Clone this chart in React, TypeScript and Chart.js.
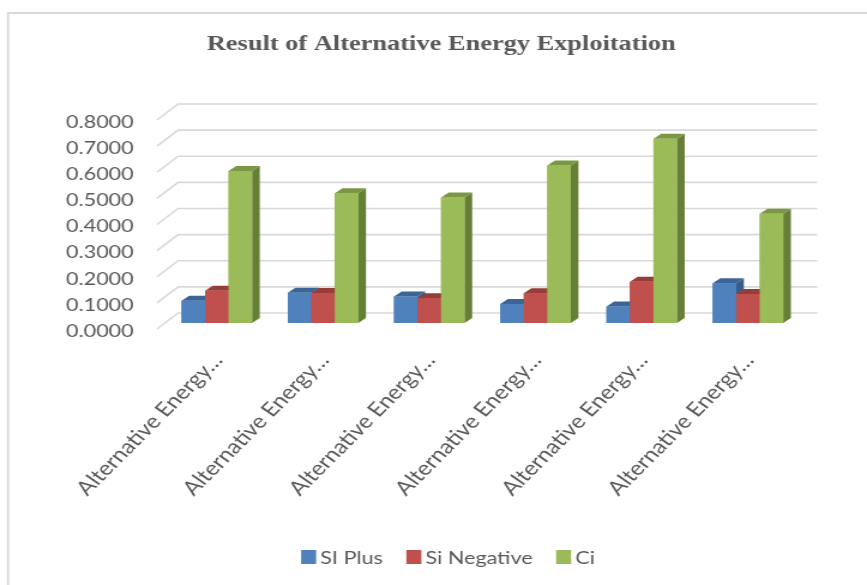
import React, { useEffect, useRef } from "react";
import { Chart, registerables } from "chart.js";

Chart.register(...registerables);

// Categories and series values
const categories = [
  "Alternative Energy…",
  "Alternative Energy…",
  "Alternative Energy…",
  "Alternative Energy…",
  "Alternative Energy…",
  "Alternative Energy…",
];
const siPlus = [0.085, 0.116, 0.101, 0.073, 0.063, 0.152];
const siNegative = [0.123, 0.115, 0.095, 0.114, 0.158, 0.111];
const ci = [0.582, 0.497, 0.48, 0.603, 0.705, 0.418];
const seriesNames = ["SI Plus", "Si Negative", "Ci"];
const yTickValues = [0, 0.1, 0.2, 0.3, 0.4, 0.5, 0.6, 0.7, 0.8];
const chartTitle = "Result of Alternative Energy Exploitation";

// Face colours for the 3-D columns: front, top, right side
const frontColors = ["#4F81BD", "#C0504D", "#9BBB59"];
const topColors = ["#3B6596", "#963D3A", "#7A9844"];
const sideColors = ["#375C88", "#873634", "#667F37"];

// Canvas is drawn narrow and widened by CSS
const CANVAS_W = 723;
const CANVAS_H = 585;
const VIEW_W = 867;

// Column depth offsets
const BAR_DX = 6.4;
const BAR_DY = 5;
// Wall offsets relative to the column plane
const BACK_DX = 12;
const BACK_DY = 10;
const FRONT_DX = 5.6;
const FRONT_DY = 6;

const TEXT_COLOR = "#595959";
const GRID_COLOR = "#D9D9D9";
const LABEL_FONT = "Lato";
const LABEL_SIZE = 18;
const CATEGORY_SIZE = 20;

const framePlugin = {
  id: "frame",
  beforeDraw(chart: any) {
    const { ctx } = chart;
    ctx.save();
    ctx.fillStyle = "#ffffff";
    ctx.fillRect(0, 0, chart.width, chart.height);
    ctx.strokeStyle = GRID_COLOR;
    ctx.lineWidth = 1.8;
    ctx.beginPath();
    ctx.moveTo(6.7, chart.height);
    ctx.lineTo(6.7, 13);
    ctx.lineTo(chart.width, 13);
    ctx.stroke();
    ctx.restore();
  },
};

const wallPlugin = {
  id: "walls",
  beforeDatasetsDraw(chart: any) {
    const { ctx, chartArea } = chart;
    const y = chart.scales.y;
    ctx.save();
    ctx.strokeStyle = GRID_COLOR;
    ctx.lineWidth = 1.6;
    for (const v of yTickValues) {
      const py = y.getPixelForValue(v);
      ctx.beginPath();
      ctx.moveTo(chartArea.left - FRONT_DX, py + FRONT_DY);
      ctx.lineTo(chartArea.left + BACK_DX, py - BACK_DY);
      ctx.lineTo(chartArea.right + BACK_DX + 1.5, py - BACK_DY);
      ctx.stroke();
    }
    ctx.restore();
  },
};

const columnPlugin = {
  id: "columns3d",
  afterDatasetsDraw(chart: any) {
    const { ctx } = chart;
    const metas = chart.data.datasets.map((_: any, i: number) => chart.getDatasetMeta(i));
    ctx.save();
    for (let j = 0; j < chart.data.labels.length; j++) {
      metas.forEach((meta: any, i: number) => {
        const el = meta.data[j];
        if (!el) return;
        const { x, y, base, width } = el.getProps(["x", "y", "base", "width"], true);
        const l = x - width / 2;
        const r = x + width / 2;
        // right side
        ctx.fillStyle = sideColors[i];
        ctx.beginPath();
        ctx.moveTo(r, y);
        ctx.lineTo(r + BAR_DX, y - BAR_DY);
        ctx.lineTo(r + BAR_DX, base - BAR_DY);
        ctx.lineTo(r, base);
        ctx.closePath();
        ctx.fill();
        // top
        ctx.fillStyle = topColors[i];
        ctx.beginPath();
        ctx.moveTo(l, y);
        ctx.lineTo(r, y);
        ctx.lineTo(r + BAR_DX, y - BAR_DY);
        ctx.lineTo(l + BAR_DX, y - BAR_DY);
        ctx.closePath();
        ctx.fill();
        // front
        ctx.fillStyle = frontColors[i];
        ctx.fillRect(l, y, r - l, base - y);
      });
    }
    ctx.restore();
  },
};

const titleLegendPlugin = {
  id: "titleLegend",
  afterDraw(chart: any) {
    const { ctx } = chart;
    ctx.save();
    ctx.fillStyle = TEXT_COLOR;
    ctx.font = 'bold 22px "Liberation Serif"';
    ctx.textAlign = "center";
    ctx.textBaseline = "alphabetic";
    ctx.fillText(chartTitle, 368, 49.5);

    // legend
    ctx.font = `${LABEL_SIZE}px ${LABEL_FONT}`;
    ctx.textAlign = "left";
    const box = 12.5;
    const gapBoxText = 3.5;
    const gapItems = 19.5;
    const widths = chart.data.datasets.map((d: any) => ctx.measureText(d.label).width);
    let total = 0;
    widths.forEach((w: number, i: number) => {
      total += box + gapBoxText + w + (i < widths.length - 1 ? gapItems : 0);
    });
    let x = 373.6 - total / 2;
    const baseline = 564;
    chart.data.datasets.forEach((d: any, i: number) => {
      ctx.fillStyle = frontColors[i];
      ctx.fillRect(x, 550, box, 14);
      ctx.fillStyle = TEXT_COLOR;
      ctx.fillText(d.label, x + box + gapBoxText, baseline);
      x += box + gapBoxText + widths[i] + gapItems;
    });
    ctx.restore();
  },
};

export default function App() {
  const canvasRef = useRef<HTMLCanvasElement | null>(null);

  useEffect(() => {
    const canvas = canvasRef.current;
    if (!canvas) return;
    const series = [siPlus, siNegative, ci];
    const chart = new Chart(canvas, {
      type: "bar",
      data: {
        labels: categories,
        datasets: series.map((values, i) => ({
          label: seriesNames[i],
          data: values,
          backgroundColor: frontColors[i],
          borderWidth: 0,
          categoryPercentage: 0.664,
          barPercentage: 1,
        })),
      },
      options: {
        responsive: false,
        animation: false,
        events: [],
        layout: { padding: { left: 0, right: 55, top: 114, bottom: 0 } },
        plugins: {
          legend: { display: false },
          title: { display: false },
          tooltip: { enabled: false },
        },
        scales: {
          x: {
            grid: { display: false, drawTicks: false },
            border: { display: false },
            ticks: {
              autoSkip: false,
              minRotation: 50,
              maxRotation: 50,
              padding: 26,
              labelOffset: 1,
              color: TEXT_COLOR,
              font: { family: LABEL_FONT, size: CATEGORY_SIZE },
            },
            afterFit(scale: any) {
              scale.height = CANVAS_H - 323;
            },
          },
          y: {
            min: 0,
            max: 0.8,
            grid: { display: false, drawTicks: false },
            border: { display: false },
            ticks: {
              stepSize: 0.1,
              padding: 25,
              labelOffset: 8,
              color: TEXT_COLOR,
              font: { family: LABEL_FONT, size: LABEL_SIZE },
              callback: (v: any) => Number(v).toFixed(4),
            },
            afterFit(scale: any) {
              scale.width = 136.5;
            },
          },
        },
      },
      plugins: [framePlugin, wallPlugin, columnPlugin, titleLegendPlugin],
    });
    return () => chart.destroy();
  }, []);

  return (
    <div style={{ position: "absolute", left: 0, top: 0, width: VIEW_W, height: CANVAS_H }}>
      <canvas
        ref={canvasRef}
        width={CANVAS_W}
        height={CANVAS_H}
        style={{ width: `${VIEW_W}px`, height: `${CANVAS_H}px`, display: "block" }}
      />
    </div>
  );
}
